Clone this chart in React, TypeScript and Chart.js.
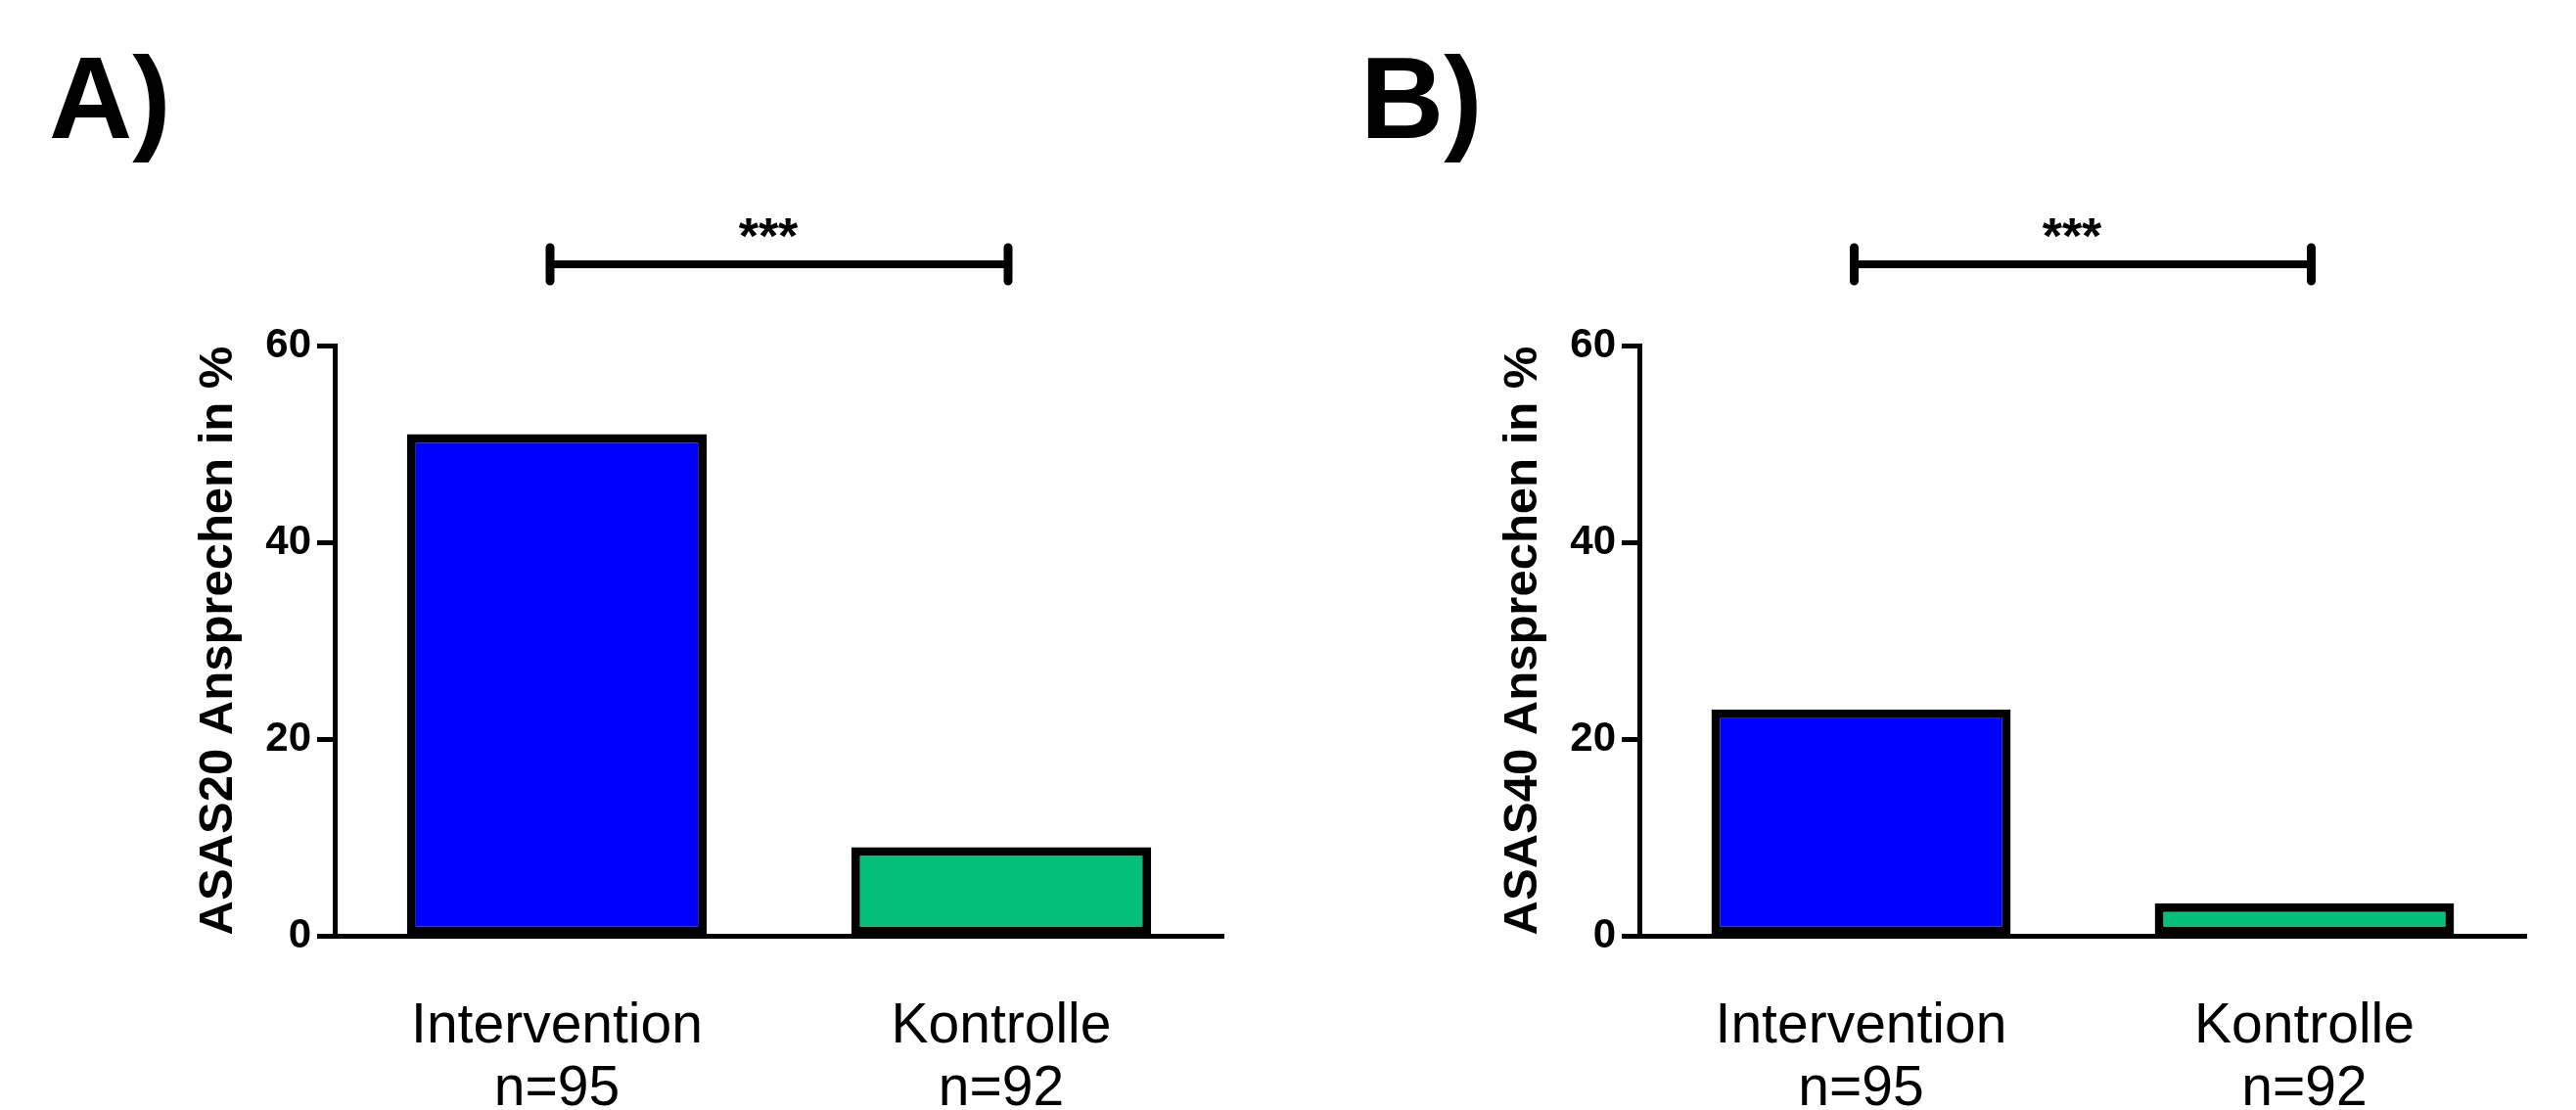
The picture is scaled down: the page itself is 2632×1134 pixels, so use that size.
import React, { useEffect, useRef } from "react";
import { Chart, registerables } from "chart.js";

Chart.register(...registerables);

// ---- data ----
const categories: string[][] = [
  ["Intervention", "n=95"],
  ["Kontrolle", "n=92"],
];
const asas20Values: number[] = [51, 9];
const asas40Values: number[] = [23, 3.3];
const yTickValues: number[] = [0, 20, 40, 60];
const barColors: string[] = ["#0000FF", "#03BF79"];
const panelLabels: string[] = ["A)", "B)"];
const yTitles: string[] = ["ASAS20 Ansprechen in %", "ASAS40 Ansprechen in %"];
const significanceMarks: string[] = ["***", "***"];

const FONT = "'Liberation Sans', Arial, Helvetica, sans-serif";

const annotPlugin = {
  id: "annot",
  afterDraw(chart: any, _args: any, opts: any) {
    const ctx = chart.ctx as CanvasRenderingContext2D;
    const xs = chart.scales.x;
    const area = chart.chartArea;
    ctx.save();
    ctx.fillStyle = "#000";
    ctx.strokeStyle = "#000";
    // panel label
    ctx.font = `bold 118px ${FONT}`;
    ctx.textAlign = "left";
    ctx.textBaseline = "alphabetic";
    ctx.fillText(opts.label, opts.labelX, 141);
    // significance bracket
    const x1 = xs.getPixelForValue(0) - 7;
    const x2 = xs.getPixelForValue(1) + 7;
    const y = area.top - 83;
    ctx.lineWidth = 8;
    ctx.lineCap = "butt";
    ctx.beginPath();
    ctx.moveTo(x1, y);
    ctx.lineTo(x2, y);
    ctx.stroke();
    ctx.lineWidth = 9;
    ctx.lineCap = "round";
    ctx.beginPath();
    ctx.moveTo(x1, y - 17);
    ctx.lineTo(x1, y + 17);
    ctx.moveTo(x2, y - 17);
    ctx.lineTo(x2, y + 17);
    ctx.stroke();
    ctx.font = `bold 52px ${FONT}`;
    ctx.textAlign = "center";
    ctx.fillText(opts.sig, (x1 + x2) / 2 - 11, y - 11);
    ctx.restore();
  },
};

function Panel(props: {
  values: number[];
  title: string;
  label: string;
  labelX: number;
  sig: string;
  padLeft: number;
  padRight: number;
}) {
  const ref = useRef<HTMLCanvasElement | null>(null);
  useEffect(() => {
    if (!ref.current) return;
    const chart = new Chart(ref.current, {
      type: "bar",
      data: {
        labels: categories,
        datasets: [
          {
            data: props.values,
            backgroundColor: barColors,
            borderColor: "#000",
            borderWidth: 9,
            borderSkipped: false,
            barPercentage: 0.675,
            categoryPercentage: 1,
          },
        ],
      },
      options: {
        responsive: false,
        animation: false,
        events: [],
        layout: {
          padding: { left: props.padLeft, right: props.padRight, top: 353, bottom: 0 },
        },
        plugins: {
          legend: { display: false },
          tooltip: { enabled: false },
          annot: { label: props.label, labelX: props.labelX, sig: props.sig },
        } as any,
        scales: {
          x: {
            type: "category",
            afterFit: (s: any) => {
              s.height = 178;
            },
            grid: { display: false, drawTicks: false },
            border: { display: true, color: "#000", width: 5 },
            ticks: {
              color: "#000",
              padding: 61,
              font: { family: FONT, size: 57, lineHeight: 1.13 },
              maxRotation: 0,
              autoSkip: false,
            },
          },
          y: {
            type: "linear",
            min: 0,
            max: 60,
            afterFit: (s: any) => {
              s.width = 143;
            },
            afterBuildTicks: (s: any) => {
              s.ticks = yTickValues.map((v) => ({ value: v }));
            },
            grid: {
              display: true,
              drawOnChartArea: false,
              drawTicks: true,
              tickLength: 18,
              tickWidth: 5,
              tickColor: "#000",
              color: "#000",
            },
            border: { display: true, color: "#000", width: 5 },
            ticks: {
              color: "#000",
              padding: 6,
              font: { family: FONT, size: 42, weight: "bold" },
            },
            title: {
              display: true,
              text: props.title,
              color: "#000",
              padding: 0,
              font: { family: FONT, size: 49, weight: "bold", lineHeight: 1 },
            },
          },
        },
      },
      plugins: [annotPlugin as any],
    });
    return () => chart.destroy();
  }, []);
  return (
    <canvas
      ref={ref}
      width={1316}
      height={1134}
      style={{ display: "block", width: 1316, height: 1134 }}
    />
  );
}

export default function App() {
  return (
    <div
      style={{
        position: "absolute",
        left: 0,
        top: 0,
        width: 2632,
        height: 1134,
        display: "flex",
        background: "#fff",
      }}
    >
      <Panel
        values={asas20Values}
        title={yTitles[0]}
        label={panelLabels[0]}
        labelX={50}
        sig={significanceMarks[0]}
        padLeft={199}
        padRight={66}
      />
      <Panel
        values={asas40Values}
        title={yTitles[1]}
        label={panelLabels[1]}
        labelX={74}
        sig={significanceMarks[1]}
        padLeft={216}
        padRight={51}
      />
    </div>
  );
}
